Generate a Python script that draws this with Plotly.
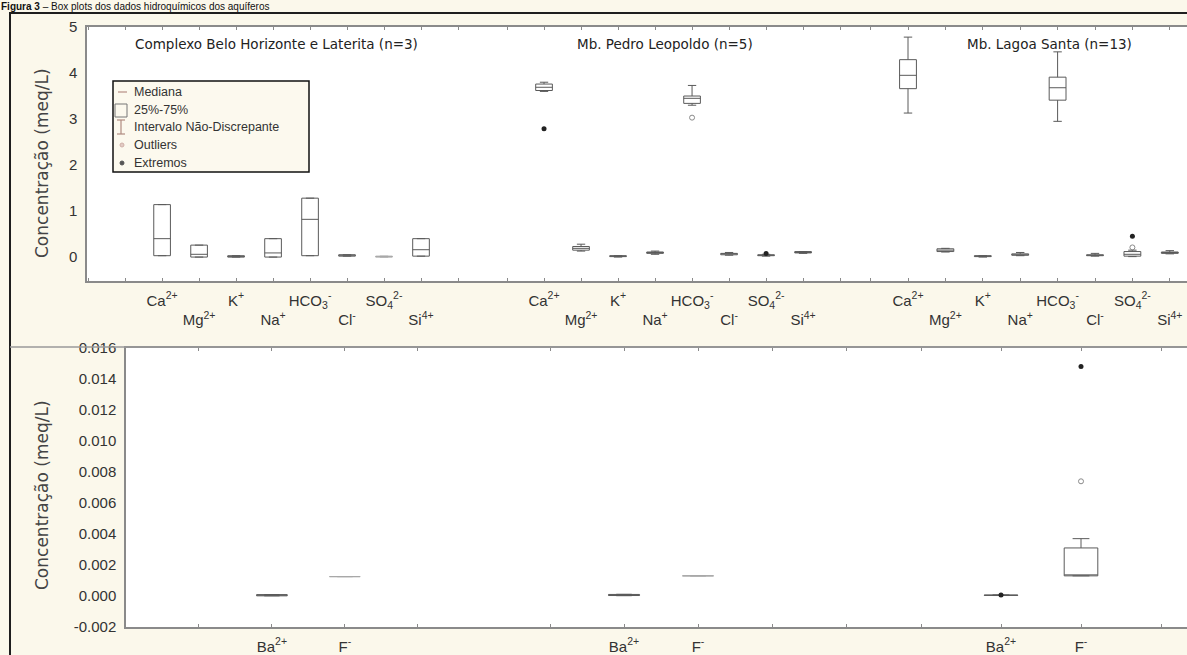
import plotly.graph_objects as go

W, H = 1187, 655

# ---------------- data ----------------
ION_POS = [2, 3, 4, 5, 6, 7, 8, 9]
ION_LABELS = ["Ca<sup>2+</sup>", "<br>Mg<sup>2+</sup>", "K<sup>+</sup>", "<br>Na<sup>+</sup>",
              "HCO<sub>3</sub><sup>-</sup>", "<br>Cl<sup>-</sup>", "SO<sub>4</sub><sup>2-</sup>",
              "<br>Si<sup>4+</sup>"]
TRACE_POS = [2, 3]
TRACE_LABELS = ["Ba<sup>2+</sup>", "F<sup>-</sup>"]

TOP_Y_TICKS = [0, 1, 2, 3, 4, 5]
BOT_Y_TICKS = [-0.002, 0.000, 0.002, 0.004, 0.006, 0.008, 0.010, 0.012, 0.014, 0.016]
BOT_Y_LABELS = ["-0.002", "0.000", "0.002", "0.004", "0.006", "0.008", "0.010",
                "0.012", "0.014", "0.016"]

PANEL_TITLES = ["Complexo Belo Horizonte e Laterita (n=3)",
                "Mb. Pedro Leopoldo (n=5)",
                "Mb. Lagoa Santa (n=13)"]

# Complexo Belo Horizonte e Laterita (n=3): Ca, Mg, K, Na, HCO3, Cl, SO4, Si
CBH_LOW = [0.03, 0.00, 0.00, 0.00, 0.03, 0.02, 0.00, 0.02]
CBH_Q1 = [0.03, 0.00, 0.00, 0.00, 0.03, 0.02, 0.00, 0.02]
CBH_MED = [0.40, 0.06, 0.01, 0.09, 0.82, 0.04, 0.01, 0.16]
CBH_Q3 = [1.14, 0.26, 0.03, 0.40, 1.28, 0.05, 0.02, 0.40]
CBH_HIGH = [1.14, 0.26, 0.03, 0.40, 1.28, 0.05, 0.02, 0.40]

# Mb. Pedro Leopoldo (n=5)
MPL_LOW = [3.60, 0.13, 0.00, 0.06, 3.30, 0.04, 0.02, 0.08]
MPL_Q1 = [3.62, 0.15, 0.01, 0.08, 3.34, 0.05, 0.03, 0.09]
MPL_MED = [3.69, 0.19, 0.02, 0.10, 3.45, 0.07, 0.04, 0.10]
MPL_Q3 = [3.76, 0.23, 0.03, 0.11, 3.50, 0.08, 0.05, 0.12]
MPL_HIGH = [3.80, 0.28, 0.03, 0.13, 3.73, 0.10, 0.06, 0.12]
MPL_OUT_X = [6]
MPL_OUT_Y = [3.03]
MPL_EXT_X = [2, 8]
MPL_EXT_Y = [2.79, 0.08]

# Mb. Lagoa Santa (n=13)
MLS_LOW = [3.13, 0.11, 0.00, 0.03, 2.95, 0.02, 0.01, 0.07]
MLS_Q1 = [3.66, 0.12, 0.01, 0.04, 3.41, 0.03, 0.02, 0.08]
MLS_MED = [3.95, 0.15, 0.02, 0.05, 3.68, 0.04, 0.06, 0.10]
MLS_Q3 = [4.29, 0.18, 0.03, 0.07, 3.91, 0.05, 0.12, 0.11]
MLS_HIGH = [4.78, 0.19, 0.03, 0.10, 4.46, 0.08, 0.15, 0.14]
MLS_OUT_X = [8]
MLS_OUT_Y = [0.21]
MLS_EXT_X = [8]
MLS_EXT_Y = [0.45]

# trace elements: Ba, F
CBH_T_LOW = [0.00001, 0.00125]
CBH_T_Q1 = [0.00001, 0.00125]
CBH_T_MED = [0.00005, 0.00125]
CBH_T_Q3 = [0.00009, 0.00125]
CBH_T_HIGH = [0.00009, 0.00125]

MPL_T_LOW = [0.00002, 0.00130]
MPL_T_Q1 = [0.00003, 0.00130]
MPL_T_MED = [0.00006, 0.00130]
MPL_T_Q3 = [0.00010, 0.00130]
MPL_T_HIGH = [0.00011, 0.00130]

MLS_T_LOW = [0.00003, 0.00130]
MLS_T_Q1 = [0.00004, 0.00130]
MLS_T_MED = [0.00005, 0.00135]
MLS_T_Q3 = [0.00006, 0.00310]
MLS_T_HIGH = [0.00007, 0.00370]
MLS_T_OUT_X = [3]
MLS_T_OUT_Y = [0.0074]
MLS_T_EXT_X = [2, 3]
MLS_T_EXT_Y = [0.00006, 0.0148]

Y_TITLE = "Concentração (meq/L)"
LEGEND_ITEMS = ["Mediana", "25%-75%", "Intervalo Não-Discrepante", "Outliers", "Extremos"]
FIG_CAPTION = "<b>Figura 3</b> – Box plots dos dados hidroquímicos dos aquíferos"

# ---------------- style ----------------
CREAM = "#FBF8EB"
BOX_COLOR = "#5a5a5a"
LIGHT_BOX = "#a8a8a8"
AXIS_COLOR = "#8a8a8a"
TEXT_COLOR = "#333333"
TICK_FONT = dict(family="Arial, Liberation Sans", size=15, color=TEXT_COLOR)


def px(x):
    return x / W


def py(y):
    return 1 - y / H


fig = go.Figure()


def add_boxes(xa, ya, pos, low, q1, med, q3, high, width, light=()):
    for i, p in enumerate(pos):
        col = LIGHT_BOX if i in light else BOX_COLOR
        fig.add_trace(go.Box(
            x=[p], lowerfence=[low[i]], q1=[q1[i]], median=[med[i]], q3=[q3[i]],
            upperfence=[high[i]], width=width, whiskerwidth=0.5,
            line=dict(color=col, width=1), fillcolor="rgba(0,0,0,0)",
            boxpoints=False, xaxis=xa, yaxis=ya, showlegend=False, hoverinfo="skip"))


def add_points(xa, ya, xs, ys, kind):
    if kind == "out":
        marker = dict(symbol="circle-open", size=5, color="#8a8a8a", line=dict(width=1))
    else:
        marker = dict(symbol="circle", size=5, color="#222222")
    fig.add_trace(go.Scatter(x=xs, y=ys, mode="markers", marker=marker,
                             xaxis=xa, yaxis=ya, showlegend=False, hoverinfo="skip"))


# top panels
add_boxes("x", "y", ION_POS, CBH_LOW, CBH_Q1, CBH_MED, CBH_Q3, CBH_HIGH, 0.45, light=(6,))
add_boxes("x2", "y2", ION_POS, MPL_LOW, MPL_Q1, MPL_MED, MPL_Q3, MPL_HIGH, 0.45)
add_points("x2", "y2", MPL_OUT_X, MPL_OUT_Y, "out")
add_points("x2", "y2", MPL_EXT_X, MPL_EXT_Y, "ext")
add_boxes("x3", "y3", ION_POS, MLS_LOW, MLS_Q1, MLS_MED, MLS_Q3, MLS_HIGH, 0.45)
add_points("x3", "y3", MLS_OUT_X, MLS_OUT_Y, "out")
add_points("x3", "y3", MLS_EXT_X, MLS_EXT_Y, "ext")

# bottom panels
add_boxes("x4", "y4", TRACE_POS, CBH_T_LOW, CBH_T_Q1, CBH_T_MED, CBH_T_Q3, CBH_T_HIGH, 0.42, light=(1,))
add_boxes("x5", "y5", TRACE_POS, MPL_T_LOW, MPL_T_Q1, MPL_T_MED, MPL_T_Q3, MPL_T_HIGH, 0.42, light=(1,))
add_boxes("x6", "y6", TRACE_POS, MLS_T_LOW, MLS_T_Q1, MLS_T_MED, MLS_T_Q3, MLS_T_HIGH, 0.42)
add_points("x6", "y6", MLS_T_OUT_X, MLS_T_OUT_Y, "out")
add_points("x6", "y6", MLS_T_EXT_X, MLS_T_EXT_Y, "ext")


def xaxis_cfg(dom, rng, tickvals, ticktext, anchor):
    return dict(domain=[px(dom[0]), px(dom[1])], range=rng, anchor=anchor,
                tickmode="array", tickvals=tickvals, ticktext=ticktext,
                ticks="inside", ticklen=3, tickcolor=AXIS_COLOR, tickwidth=1,
                minor=dict(ticks="inside", ticklen=3, tick0=0, dtick=1,
                           tickcolor=AXIS_COLOR, tickwidth=1, showgrid=False),
                showline=True, linecolor=AXIS_COLOR, linewidth=1.5, mirror="ticks",
                showgrid=False, zeroline=False, tickfont=TICK_FONT, automargin=False,
                ticklabelstandoff=5, fixedrange=True)


layout = dict(
    width=W, height=H, margin=dict(l=0, r=0, t=0, b=0, pad=0, autoexpand=False),
    paper_bgcolor=CREAM, plot_bgcolor="white", showlegend=False, boxmode="overlay",
    xaxis=xaxis_cfg((87, 485), [-0.03, 10.73], ION_POS, ION_LABELS, "y"),
    xaxis2=xaxis_cfg((485, 866), [0.405, 10.70], ION_POS, ION_LABELS, "y2"),
    xaxis3=xaxis_cfg((866, 1187), [0.877, 9.46], ION_POS, ION_LABELS, "y3"),
    xaxis4=xaxis_cfg((126, 482), [0, 4.88], TRACE_POS, TRACE_LABELS, "y4"),
    xaxis5=xaxis_cfg((482, 862), [0.081, 5.216], TRACE_POS, TRACE_LABELS, "y5"),
    xaxis6=xaxis_cfg((862, 1187), [0.2625, 4.325], TRACE_POS, TRACE_LABELS, "y6"),
)

TOP_DOM_Y = [py(281), py(27)]
BOT_DOM_Y = [py(627), py(348)]

for i, (name, dom, rng) in enumerate([
        ("yaxis", TOP_DOM_Y, [-0.52, 5]), ("yaxis2", TOP_DOM_Y, [-0.52, 5]),
        ("yaxis3", TOP_DOM_Y, [-0.52, 5]),
        ("yaxis4", BOT_DOM_Y, [-0.002, 0.016]), ("yaxis5", BOT_DOM_Y, [-0.002, 0.016]),
        ("yaxis6", BOT_DOM_Y, [-0.002, 0.016])]):
    first = name in ("yaxis", "yaxis4")
    cfg = dict(domain=dom, range=rng, anchor="x" + ("" if i == 0 else str(i + 1)),
               showgrid=False, zeroline=False, fixedrange=True, automargin=False,
               showline=first, linecolor=AXIS_COLOR, linewidth=1.5,
               showticklabels=first, ticks="", tickfont=TICK_FONT, ticklabelstandoff=5)
    if name == "yaxis":
        cfg.update(tickmode="array", tickvals=TOP_Y_TICKS)
    if name == "yaxis4":
        cfg.update(tickmode="array", tickvals=BOT_Y_TICKS, ticktext=BOT_Y_LABELS)
    layout[name] = cfg

fig.update_layout(**layout)

shapes = []
# outer frame
shapes.append(dict(type="rect", xref="paper", yref="paper", x0=px(10), x1=px(1200),
                   y0=py(13), y1=py(700), line=dict(color="#1e1e1e", width=2),
                   fillcolor="rgba(0,0,0,0)", layer="above"))
# separator between upper and lower charts
shapes.append(dict(type="line", xref="paper", yref="paper", x0=px(10), x1=px(1187),
                   y0=py(347), y1=py(347), line=dict(color="#9a9a9a", width=1.5)))
# legend frame
shapes.append(dict(type="rect", xref="paper", yref="paper", x0=px(113), x1=px(309),
                   y0=py(172), y1=py(81), line=dict(color="#111111", width=1.5),
                   fillcolor="#FCF9EE"))
# legend symbols
shapes.append(dict(type="line", xref="paper", yref="paper", x0=px(118), x1=px(127),
                   y0=py(92), y1=py(92), line=dict(color="#c4a39a", width=1.5)))
shapes.append(dict(type="rect", xref="paper", yref="paper", x0=px(115), x1=px(127),
                   y0=py(117), y1=py(104), line=dict(color="#777777", width=1)))
for seg in [(121, 121, 120, 134), (117, 125, 120, 120), (117, 125, 134, 134)]:
    shapes.append(dict(type="line", xref="paper", yref="paper", x0=px(seg[0]), x1=px(seg[1]),
                       y0=py(seg[2]), y1=py(seg[3]), line=dict(color="#b08a80", width=1.2)))
shapes.append(dict(type="circle", xref="paper", yref="paper", x0=px(120), x1=px(124),
                   y0=py(147), y1=py(143), line=dict(color="#d0b0a8", width=1),
                   fillcolor="#e2cbc4"))
shapes.append(dict(type="circle", xref="paper", yref="paper", x0=px(120), x1=px(124),
                   y0=py(165), y1=py(161), line=dict(color="#555555", width=1),
                   fillcolor="#555555"))
fig.update_layout(shapes=shapes)

ann = []
TITLE_FONT = dict(family="DejaVu Sans", size=13.5, color="#222222")
for t, cx, cy in zip(PANEL_TITLES, [276, 665, 1049], [44, 44, 44]):
    ann.append(dict(text=t, x=px(cx), y=py(cy), xref="paper", yref="paper",
                    showarrow=False, font=TITLE_FONT, xanchor="center", yanchor="middle"))
for cy in [163, 495]:
    ann.append(dict(text=Y_TITLE, x=px(42), y=py(cy), xref="paper", yref="paper",
                    showarrow=False, textangle=-90,
                    font=dict(family="DejaVu Sans", size=17, color="#444444"),
                    xanchor="center", yanchor="middle"))
for t, cy in zip(LEGEND_ITEMS, [92, 110, 127, 145, 163]):
    ann.append(dict(text=t, x=px(132), y=py(cy), xref="paper", yref="paper",
                    showarrow=False, xanchor="left", yanchor="middle",
                    font=dict(family="Arial, Liberation Sans", size=12.5, color="#333333")))
ann.append(dict(text=FIG_CAPTION, x=0, y=1, xref="paper", yref="paper",
                showarrow=False, xanchor="left", yanchor="top", borderpad=0,
                font=dict(family="Arial, Liberation Sans", size=10, color="#111111")))
fig.update_layout(annotations=ann)

fig.write_html("out.html")
